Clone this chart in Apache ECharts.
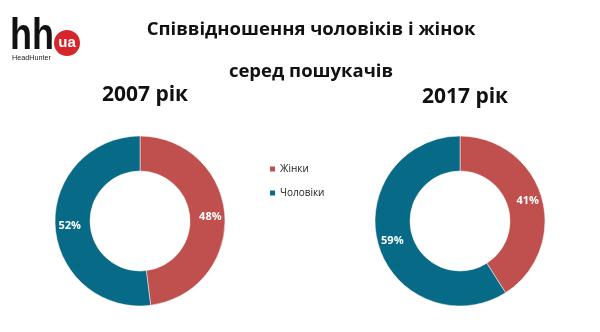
<!DOCTYPE html>
<html><head><meta charset="utf-8">
<script src="https://cdn.jsdelivr.net/npm/echarts@6/dist/echarts.min.js"></script>
<style>html,body{margin:0;padding:0;background:#fff}#c{width:600px;height:332px}</style>
</head><body><div id="c"></div>
<script>
const categories = ['Жінки', 'Чоловіки'];
const values2007 = [48, 52];
const values2017 = [41, 59];
const yearTitles = ['2007 рік', '2017 рік'];
const colors = ['#C0504D', '#076A86'];
const font = '"Open Sans", "Noto Sans", sans-serif';

const chart = echarts.init(document.getElementById('c'));
function mk(vals, cx) {
  return {
    type: 'pie', radius: [50, 85], center: [cx, 221], startAngle: 90, clockwise: true,
    silent: true, avoidLabelOverlap: false,
    label: { show: true, position: 'inside', formatter: '{c}%', color: '#fff', fontFamily: font, fontWeight: 'bold', fontSize: 11 },
    labelLine: { show: false },
    itemStyle: { borderColor: '#fff', borderWidth: 0.5 },
    data: categories.map((n, i) => ({ name: n, value: vals[i] }))
  };
}
chart.setOption({
  color: colors,
  animation: false,
  title: [
    { text: 'Співвідношення чоловіків і жінок', left: 306, top: 15, textAlign: 'center', textStyle: { fontFamily: font, fontSize: 18.5, fontWeight: 'bold', color: '#111' } },
    { text: 'серед пошукачів', left: 306, top: 57, textAlign: 'center', textStyle: { fontFamily: font, fontSize: 18.5, fontWeight: 'bold', color: '#111' } },
    { text: yearTitles[0], left: 140, top: 80, textAlign: 'center', textStyle: { fontFamily: font, fontSize: 21, fontWeight: 'bold', color: '#111' } },
    { text: yearTitles[1], left: 460, top: 82, textAlign: 'center', textStyle: { fontFamily: font, fontSize: 21, fontWeight: 'bold', color: '#111' } }
  ],
  legend: {
    orient: 'vertical', left: 263, top: 159, itemWidth: 7, itemHeight: 7, itemGap: 14,
    icon: 'rect', data: categories,
    textStyle: { fontFamily: font, fontSize: 10, color: '#222', padding: [0, 0, 0, -1] }
  },
  graphic: [
    { type: 'text', x: 10, y: 14, scaleX: 0.8, style: { text: 'hh', font: 'bold 45px "Liberation Sans", Arial, sans-serif', fill: '#111' } },
    { type: 'circle', shape: { cx: 67, cy: 43, r: 13 }, style: { fill: '#D6262B' } },
    { type: 'text', x: 67, y: 43, style: { text: 'ua', font: 'bold 15px "Liberation Sans", Arial, sans-serif', fill: '#fff', align: 'center', verticalAlign: 'middle' } },
    { type: 'text', x: 12, y: 54, scaleX: 0.9, style: { text: 'HeadHunter', font: '8px "Liberation Sans", Arial, sans-serif', fill: '#222' } }
  ],
  series: [mk(values2007, 140), mk(values2017, 460)]
});
</script></body></html>
